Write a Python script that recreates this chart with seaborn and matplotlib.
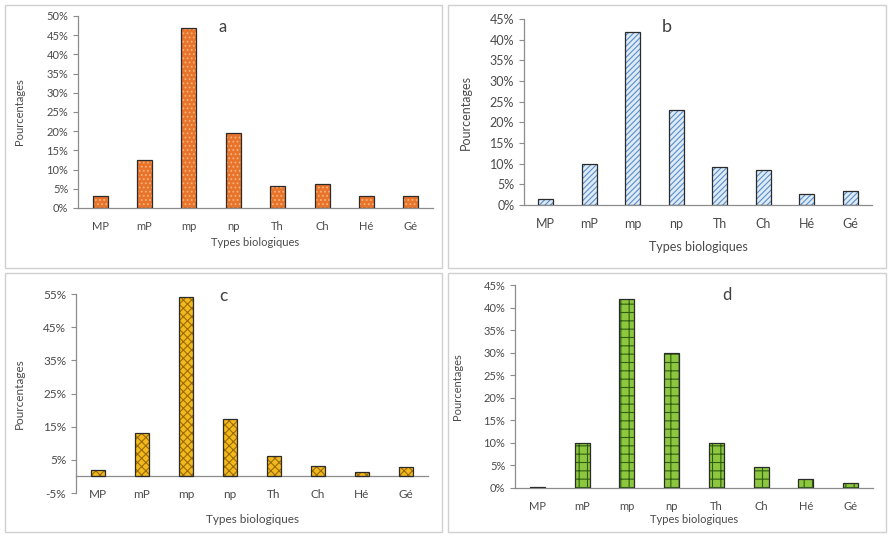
import matplotlib
matplotlib.use("Agg")
import matplotlib.pyplot as plt
import seaborn as sns
from matplotlib.patches import Rectangle
from matplotlib.ticker import FixedLocator, FuncFormatter


# ==========================================
# DATA
# ==========================================

types = ["MP", "mP", "mp", "np", "Th", "Ch", "Hé", "Gé"]

values_a = [3.0, 12.5, 46.8, 19.6, 5.6, 6.3, 3.0, 3.0]
values_b = [1.4, 9.8, 41.8, 23.0, 9.2, 8.5, 2.7, 3.4]
values_c = [2.0, 13.0, 54.0, 17.2, 6.2, 3.0, 1.4, 2.8]
values_d = [0.3, 9.9, 41.8, 29.9, 9.9, 4.6, 2.0, 1.2]

yticks_a = [0, 5, 10, 15, 20, 25, 30, 35, 40, 45, 50]
yticks_b = [0, 5, 10, 15, 20, 25, 30, 35, 40, 45]
yticks_c = [-5, 5, 15, 25, 35, 45, 55]
yticks_d = [0, 5, 10, 15, 20, 25, 30, 35, 40, 45]


# ==========================================
# STYLE
# ==========================================

sns.set_style("white")
plt.rcParams["font.family"] = ["Lato", "DejaVu Sans"]
plt.rcParams["hatch.linewidth"] = 0.8

W, H = 889, 536
fig = plt.figure(figsize=(W / 100, H / 100), dpi=100)
fig.patch.set_facecolor("white")

text_grey = "#4a4a4a"
axis_grey = "#8c8c8c"


def px_axes(left, top, right, bottom):
    return fig.add_axes([left / W, 1 - bottom / H, (right - left) / W, (bottom - top) / H])


def frame(left, top, right, bottom):
    fig.patches.append(Rectangle((left / W, 1 - bottom / H), (right - left) / W, (bottom - top) / H,
                                 transform=fig.transFigure, fill=False,
                                 edgecolor="#d0d0d0", linewidth=1.0, zorder=0))


def panel(ax, values, yticks, face, hatch, hcolor, letter, letter_xy, fs):
    sns.barplot(x=types, y=values, color=face, width=0.34, hatch=hatch,
                edgecolor=hcolor, linewidth=0, saturation=1, ax=ax, zorder=2)
    sns.barplot(x=types, y=values, fill=False, width=0.34, edgecolor="#2b2b2b",
                linewidth=0.9, ax=ax, zorder=3)
    ax.set_xlim(-0.5, 7.5)
    ax.set_ylim(yticks[0], yticks[-1])
    ax.yaxis.set_major_locator(FixedLocator(yticks))
    ax.yaxis.set_major_formatter(FuncFormatter(lambda v, p: f"{v:g}%"))
    ax.xaxis.set_minor_locator(FixedLocator([i - 0.5 for i in range(9)]))
    ax.tick_params(axis="x", which="major", length=0, labelsize=fs, labelcolor=text_grey, pad=9)
    ax.tick_params(axis="x", which="minor", length=3.5, width=0.8, color=axis_grey, direction="out")
    ax.tick_params(axis="y", length=3.5, width=0.8, color=axis_grey, direction="out",
                   labelsize=fs, labelcolor=text_grey, left=True)
    for s in ["top", "right"]:
        ax.spines[s].set_visible(False)
    for s in ["left", "bottom"]:
        ax.spines[s].set_color(axis_grey)
        ax.spines[s].set_linewidth(0.9)
    ax.set_facecolor("none")
    ax.set_xlabel("Types biologiques", fontsize=fs, color=text_grey)
    ax.set_ylabel("Pourcentages", fontsize=fs, color=text_grey)
    fig.text(letter_xy[0] / W, 1 - letter_xy[1] / H, letter, fontsize=fs + 4,
             color="#404040", ha="center", va="center")


# ==========================================
# PANEL FRAMES
# ==========================================

frame(5, 5, 442, 268)
frame(448, 5, 886, 268)
frame(5, 273, 442, 532)
frame(448, 273, 886, 532)


# ==========================================
# PANELS
# ==========================================

ax_a = px_axes(78, 16, 433, 208)
panel(ax_a, values_a, yticks_a, "#E8732A", "....", "#F7B27A", "a", (223, 27), 8)
ax_a.xaxis.labelpad = 4
ax_a.yaxis.set_label_coords(-0.15, 0.5)

ax_b = px_axes(524, 19, 872, 205)
panel(ax_b, values_b, yticks_b, "#DDEBF7", "//////", "#5B8DC8", "b", (667, 27), 9)
ax_b.xaxis.labelpad = 8
ax_b.yaxis.set_label_coords(-0.15, 0.5)

ax_c = px_axes(76, 294, 428, 493)
panel(ax_c, values_c, yticks_c, "#F2B81E", "xxxx", "#9A6C00", "c", (223, 296), 8.5)
ax_c.spines["bottom"].set_position(("data", 0))
ax_c.xaxis.labelpad = 10
ax_c.yaxis.set_label_coords(-0.145, 0.5)

ax_d = px_axes(515, 285, 873, 488)
panel(ax_d, values_d, yticks_d, "#8DC63F", "++", "#2F5E12", "d", (727, 295), 8)
ax_d.xaxis.labelpad = 2
ax_d.yaxis.set_label_coords(-0.145, 0.5)

fig.savefig("out.png", dpi=100, facecolor="white")
